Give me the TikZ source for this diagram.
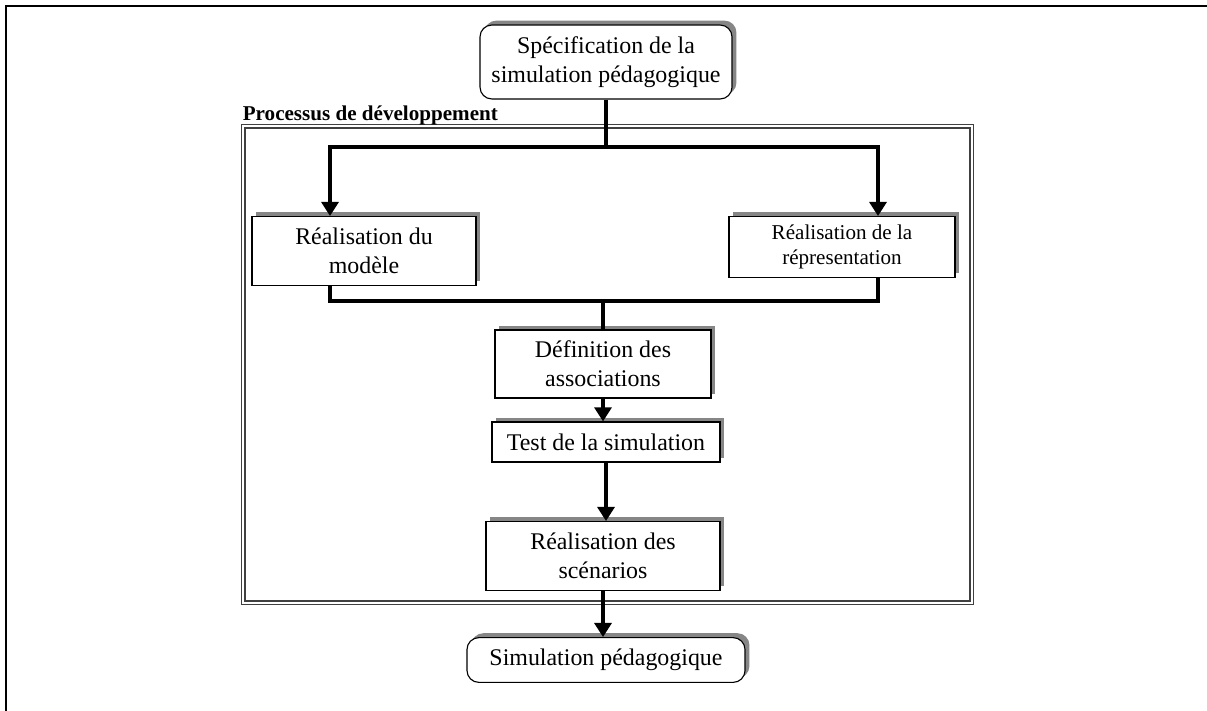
\documentclass[tikz,border=0pt]{standalone}
\usepackage{fontspec}
\setmainfont{Liberation Serif}
\usetikzlibrary{arrows.meta,shadows,positioning}

\begin{document}
\begin{tikzpicture}[x=0.025cm, y=-0.025cm,
            box/.style={rectangle, draw, line width=0.8pt, fill=white, text centered, align=center, font=\fontsize{17}{20.6}\selectfont, general shadow={fill=gray!95, shadow xshift=0.11cm, shadow yshift=0.11cm}},
            endbox/.style={box, rounded corners=0.3cm},
            line/.style={line width=2.4pt},
            arrow/.style={line, -{Triangle[width=12pt,length=10pt]}}
        ]
            \useasboundingbox (0,0) rectangle (1207,710);
            % page frame
            \draw[line width=1.6pt] (6,712) -- (6,6) -- (1210,6);

            \node[draw=black!75, line width=1.2pt, double=white, double distance=1.4pt, minimum width=18.2cm, minimum height=11.9cm,
                  label={[anchor=south west, inner sep=0pt, font=\bfseries\fontsize{15}{18}\selectfont]north west:Processus de développement}] (process) at (607.5,364.5) {};

            \node[endbox, minimum width=6.3cm, minimum height=1.85cm] (spec) at (606,62) {Spécification de la\\simulation pédagogique};
            \node[box, minimum width=5.6cm, minimum height=1.72cm] (modele) at (364,251) {Réalisation du\\modèle};
            \node[box, minimum width=5.65cm, minimum height=1.52cm, font=\fontsize{15}{17.8}\selectfont] (repr) at (842,247) {Réalisation de la\\répresentation};
            \node[box, minimum width=5.4cm, minimum height=1.7cm] (defin) at (603,364) {Définition des\\associations};
            \node[box, minimum width=5.7cm, minimum height=1.0cm] (test) at (606,442) {Test de la simulation};
            \node[box, minimum width=5.85cm, minimum height=1.72cm] (scen) at (603,556) {Réalisation des\\scénarios};
            \node[endbox, minimum width=6.95cm, minimum height=1.12cm] (simu) at (606,660) {Simulation pédagogique};

            \coordinate (splitL) at (330,147);
            \coordinate (splitR) at (878,147);
            \coordinate (mergeL) at (330,301);
            \coordinate (mergeR) at (878,301);

            \draw[arrow] (spec.south) |- (splitL) -- (modele.north -| splitL);
            \draw[arrow] (spec.south) |- (splitR) -- (repr.north -| splitR);
            \draw[line] (modele.south -| mergeL) -- (mergeL) -- (mergeR) -- (repr.south -| mergeR);
            \draw[line] (defin.north |- mergeL) -- (defin.north);
            \draw[arrow] (defin.south) -- (defin.south |- test.north);
            \draw[arrow] (test.south) -- (test.south |- scen.north);
            \draw[arrow] (scen.south) -- (scen.south |- simu.north);
        \end{tikzpicture}
\end{document}
